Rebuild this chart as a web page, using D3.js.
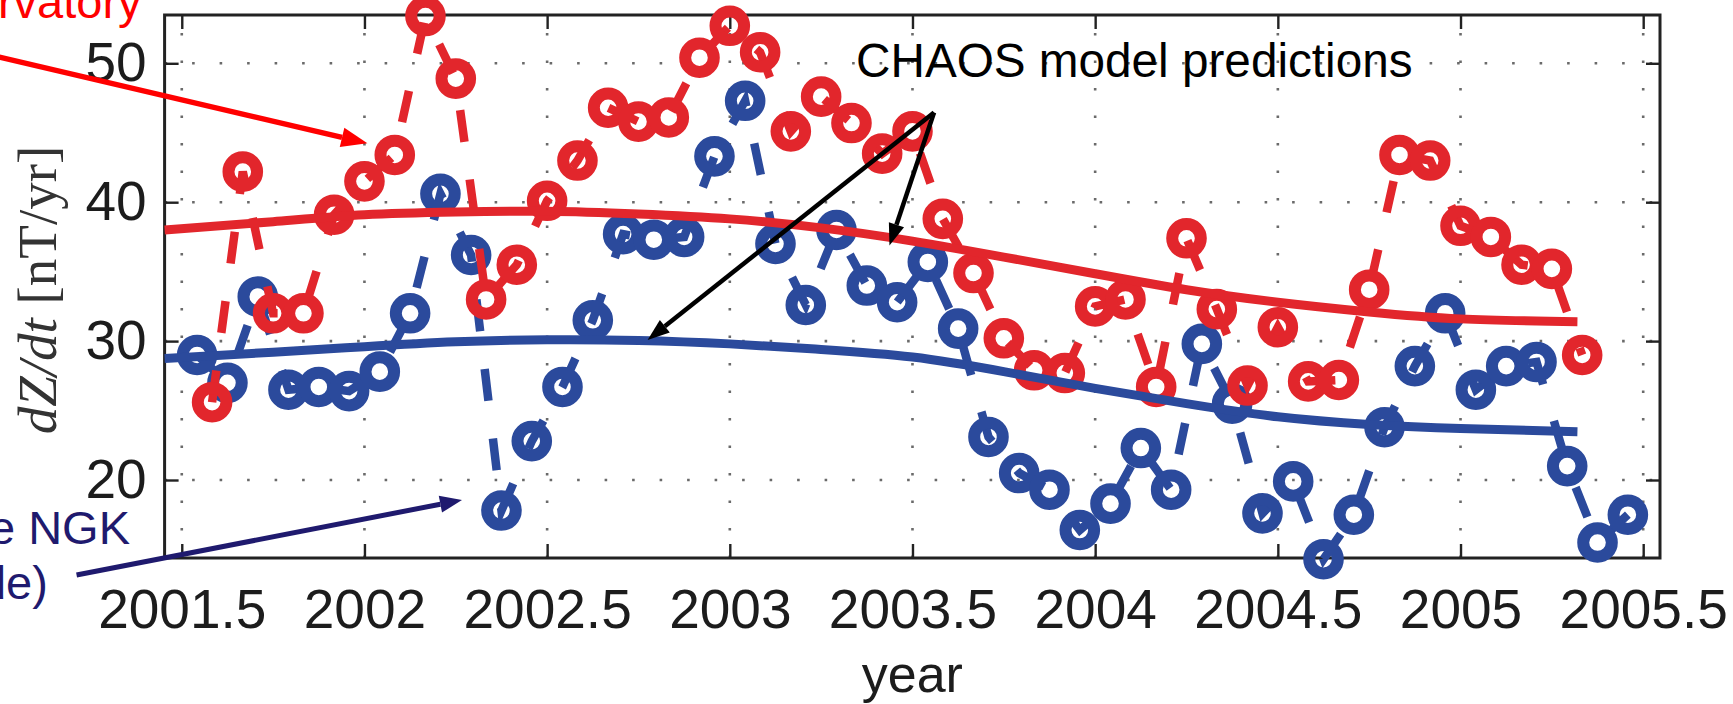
<!DOCTYPE html>
<html>
<head>
<meta charset="utf-8">
<script src="https://cdn.jsdelivr.net/npm/d3@7"></script>
<style>
  html, body { margin: 0; padding: 0; background: #fff; overflow: hidden; }
  svg { display: block; }
</style>
</head>
<body>
<svg id="chart" width="1733" height="704"></svg>
<script>
// Monthly observatory means of dZ/dt (red: month start epochs, blue: mid-month epochs)
const redYears = [
  2001.583, 2001.667, 2001.750, 2001.833, 2001.917,
  2002.000, 2002.083, 2002.167, 2002.250, 2002.333, 2002.417, 2002.500,
  2002.583, 2002.667, 2002.750, 2002.833, 2002.917,
  2003.000, 2003.083, 2003.167, 2003.250, 2003.333, 2003.417, 2003.500,
  2003.583, 2003.667, 2003.750, 2003.833, 2003.917,
  2004.000, 2004.083, 2004.167, 2004.250, 2004.333, 2004.417, 2004.500,
  2004.583, 2004.667, 2004.750, 2004.833, 2004.917,
  2005.000, 2005.083, 2005.167, 2005.250, 2005.333
];
const redValues = [
  25.6, 42.2, 32.0, 32.0, 39.1,
  41.5, 43.4, 53.4, 48.9, 33.0, 35.5, 40.1,
  43.0, 46.8, 45.8, 46.1, 50.4,
  52.7, 50.8, 45.1, 47.6, 45.7, 43.5, 45.1,
  38.8, 34.9, 30.2, 27.9, 27.7,
  32.5, 33.0, 26.7, 37.4, 32.3, 26.8, 31.0,
  27.1, 27.2, 33.7, 43.4, 43.0,
  38.3, 37.5, 35.5, 35.2, 29.0
];
const blueYears = [
  2001.542, 2001.625, 2001.708, 2001.792, 2001.875, 2001.958,
  2002.042, 2002.125, 2002.208, 2002.292, 2002.375, 2002.458,
  2002.542, 2002.625, 2002.708, 2002.792, 2002.875, 2002.958,
  2003.042, 2003.125, 2003.208, 2003.292, 2003.375, 2003.458,
  2003.542, 2003.625, 2003.708, 2003.792, 2003.875, 2003.958,
  2004.042, 2004.125, 2004.208, 2004.292, 2004.375, 2004.458,
  2004.542, 2004.625, 2004.708, 2004.792, 2004.875, 2004.958,
  2005.042, 2005.125, 2005.208, 2005.292, 2005.375, 2005.458
];
const blueValues = [
  29.0, 27.0, 33.2, 26.5, 26.7, 26.4,
  27.8, 32.0, 40.6, 36.2, 17.8, 22.8,
  26.7, 31.5, 37.7, 37.3, 37.5, 43.3,
  47.3, 37.0, 32.6, 38.0, 34.0, 32.8,
  35.7, 30.9, 23.1, 20.5, 19.3, 16.4,
  18.3, 22.3, 19.3, 29.8, 25.5, 17.6,
  19.9, 14.3, 17.5, 23.8, 28.2, 32.0,
  26.5, 28.2, 28.5, 21.0, 15.5, 17.5
];

// CHAOS model predictions, sampled along the time axis
const modelYears = [2001.453, 2001.75, 2002.0, 2002.25, 2002.5, 2002.75, 2003.0, 2003.25,
                    2003.5, 2003.75, 2004.0, 2004.25, 2004.5, 2004.75, 2005.0, 2005.32];
const redModel  = [38.0, 38.6, 39.1, 39.3, 39.35, 39.15, 38.8, 38.15,
                   37.2, 36.05, 34.85, 33.7, 32.8, 32.1, 31.6, 31.4];
const blueModel = [28.75, 29.2, 29.6, 29.95, 30.1, 30.05, 29.8, 29.4,
                   28.85, 27.8, 26.6, 25.5, 24.55, 24.0, 23.7, 23.48];

const xTicks = [2001.5, 2002, 2002.5, 2003, 2003.5, 2004, 2004.5, 2005, 2005.5];
const xTickLabels = ["2001.5", "2002", "2002.5", "2003", "2003.5", "2004", "2004.5", "2005", "2005.5"];
const yTicks = [20, 30, 40, 50];
const yTickLabels = ["20", "30", "40", "50"];

// Annotation arrows: [start year, start value] -> [tip year, tip value]
const obsArrow   = [[2001.0, 50.45], [2002.008, 44.24]];
const ngkArrow   = [[2001.212, 13.16], [2002.267, 18.56]];
const chaosArrows = [
  [[2003.559, 46.46], [2003.437, 36.88]],
  [[2003.559, 46.46], [2002.775, 30.08]]
];

const RED = "#e2262c";
const BLUE = "#2b4a9c";
const NAVY = "#1f1a6e";

const svg = d3.select("#chart");
const frame = { left: 164.6, right: 1660, top: 15, bottom: 558 };

const x = d3.scaleLinear().domain([2001.453, 2005.546]).range([frame.left, frame.right]);
const y = d3.scaleLinear().domain([14.385, 53.477]).range([frame.bottom, frame.top]);

const sansFont = "'Liberation Sans', Arial, sans-serif";

// dotted grid
const grid = svg.append("g").attr("stroke", "#6a6a6a").attr("stroke-width", 2.6)
  .attr("stroke-dasharray", "2.6,24.9").attr("fill", "none");
grid.selectAll(".gx").data(xTicks).join("line")
  .attr("x1", d => x(d)).attr("x2", d => x(d))
  .attr("y1", frame.bottom).attr("y2", frame.top);
grid.selectAll(".gy").data(yTicks).join("line")
  .attr("y1", d => y(d)).attr("y2", d => y(d))
  .attr("x1", frame.left).attr("x2", frame.right);

// axes with inward ticks on all four sides
function styleAxis(g) {
  g.select(".domain").remove();
  g.selectAll(".tick line").attr("stroke", "#222").attr("stroke-width", 2.4);
  g.selectAll(".tick text").attr("fill", "#1c1c1c")
    .style("font-family", sansFont).style("font-size", "55px");
}
svg.append("g").attr("transform", `translate(0,${frame.bottom})`)
  .call(d3.axisBottom(x).tickValues(xTicks).tickSize(-14).tickPadding(31)
    .tickFormat((d, i) => xTickLabels[i]))
  .call(styleAxis);
svg.append("g").attr("transform", `translate(0,${frame.top})`)
  .call(d3.axisTop(x).tickValues(xTicks).tickSize(-14).tickFormat(""))
  .call(styleAxis);
svg.append("g").attr("transform", `translate(${frame.left},0)`)
  .call(d3.axisLeft(y).tickValues(yTicks).tickSize(-14).tickPadding(18)
    .tickFormat((d, i) => yTickLabels[i]))
  .call(styleAxis);
svg.append("g").attr("transform", `translate(${frame.right},0)`)
  .call(d3.axisRight(y).tickValues(yTicks).tickSize(-14).tickFormat(""))
  .call(styleAxis);

svg.append("rect")
  .attr("x", frame.left).attr("y", frame.top)
  .attr("width", frame.right - frame.left).attr("height", frame.bottom - frame.top)
  .attr("fill", "none").attr("stroke", "#222").attr("stroke-width", 3);

// observed series: dashed connection + open circles
function drawSeries(years, values, color) {
  const pts = years.map((t, i) => [t, values[i]]);
  const line = d3.line().x(d => x(d[0])).y(d => y(d[1]));
  svg.append("path").datum(pts)
    .attr("d", line).attr("fill", "none")
    .attr("stroke", color).attr("stroke-width", 8.5)
    .attr("stroke-dasharray", "32,38");
  svg.append("g").selectAll("circle").data(pts).join("circle")
    .attr("cx", d => x(d[0])).attr("cy", d => y(d[1])).attr("r", 14.3)
    .attr("fill", "none").attr("stroke", color).attr("stroke-width", 12);
}
drawSeries(blueYears, blueValues, BLUE);
drawSeries(redYears, redValues, RED);

// model curves
function drawModel(values, color) {
  const pts = modelYears.map((t, i) => [t, values[i]]);
  svg.append("path").datum(pts)
    .attr("d", d3.line().curve(d3.curveNatural).x(d => x(d[0])).y(d => y(d[1])))
    .attr("fill", "none").attr("stroke", color).attr("stroke-width", 9);
}
drawModel(blueModel, BLUE);
drawModel(redModel, RED);

// arrows
function arrow(a, color, width, headLen, headWidth) {
  const x0 = x(a[0][0]), y0 = y(a[0][1]);
  const x1 = x(a[1][0]), y1 = y(a[1][1]);
  const ang = Math.atan2(y1 - y0, x1 - x0);
  const bx = x1 - headLen * Math.cos(ang), by = y1 - headLen * Math.sin(ang);
  svg.append("line").attr("x1", x0).attr("y1", y0).attr("x2", bx).attr("y2", by)
    .attr("stroke", color).attr("stroke-width", width);
  const px = -Math.sin(ang) * headWidth / 2, py = Math.cos(ang) * headWidth / 2;
  svg.append("path")
    .attr("d", `M${x1},${y1}L${bx + px},${by + py}L${bx - px},${by - py}Z`)
    .attr("fill", color);
}
arrow(obsArrow, "#ff0000", 5.5, 26, 20);
arrow(ngkArrow, NAVY, 5, 22, 17);
chaosArrows.forEach(a => arrow(a, "#000", 4.5, 22, 16));

// annotation texts
svg.append("text").attr("x", 141.6).attr("y", 18.3).attr("text-anchor", "end")
  .attr("fill", "#ff0000").style("font-family", sansFont).style("font-size", "47px")
  .text("rvatory");
svg.append("text").attr("x", 856).attr("y", 77)
  .attr("fill", "#000").style("font-family", sansFont).style("font-size", "47.7px")
  .text("CHAOS model predictions");
svg.append("text").attr("x", 130).attr("y", 544).attr("text-anchor", "end")
  .attr("fill", NAVY).style("font-family", sansFont).style("font-size", "47px")
  .text("e NGK");
svg.append("text").attr("x", 47.8).attr("y", 599).attr("text-anchor", "end")
  .attr("fill", NAVY).style("font-family", sansFont).style("font-size", "47px")
  .text("de)");

// axis titles
svg.append("text").attr("x", (frame.left + frame.right) / 2).attr("y", 692)
  .attr("text-anchor", "middle").attr("fill", "#1c1c1c")
  .style("font-family", sansFont).style("font-size", "52px")
  .text("year");

const yTitle = svg.append("text")
  .attr("transform", "translate(56,290) rotate(-90)")
  .attr("text-anchor", "middle").attr("fill", "#333")
  .style("font-family", "'Liberation Serif', 'Times New Roman', serif").style("font-size", "55px");
yTitle.append("tspan").style("font-style", "italic").text("dZ/dt");
yTitle.append("tspan").text(" [nT/yr]");
</script>
</body>
</html>
